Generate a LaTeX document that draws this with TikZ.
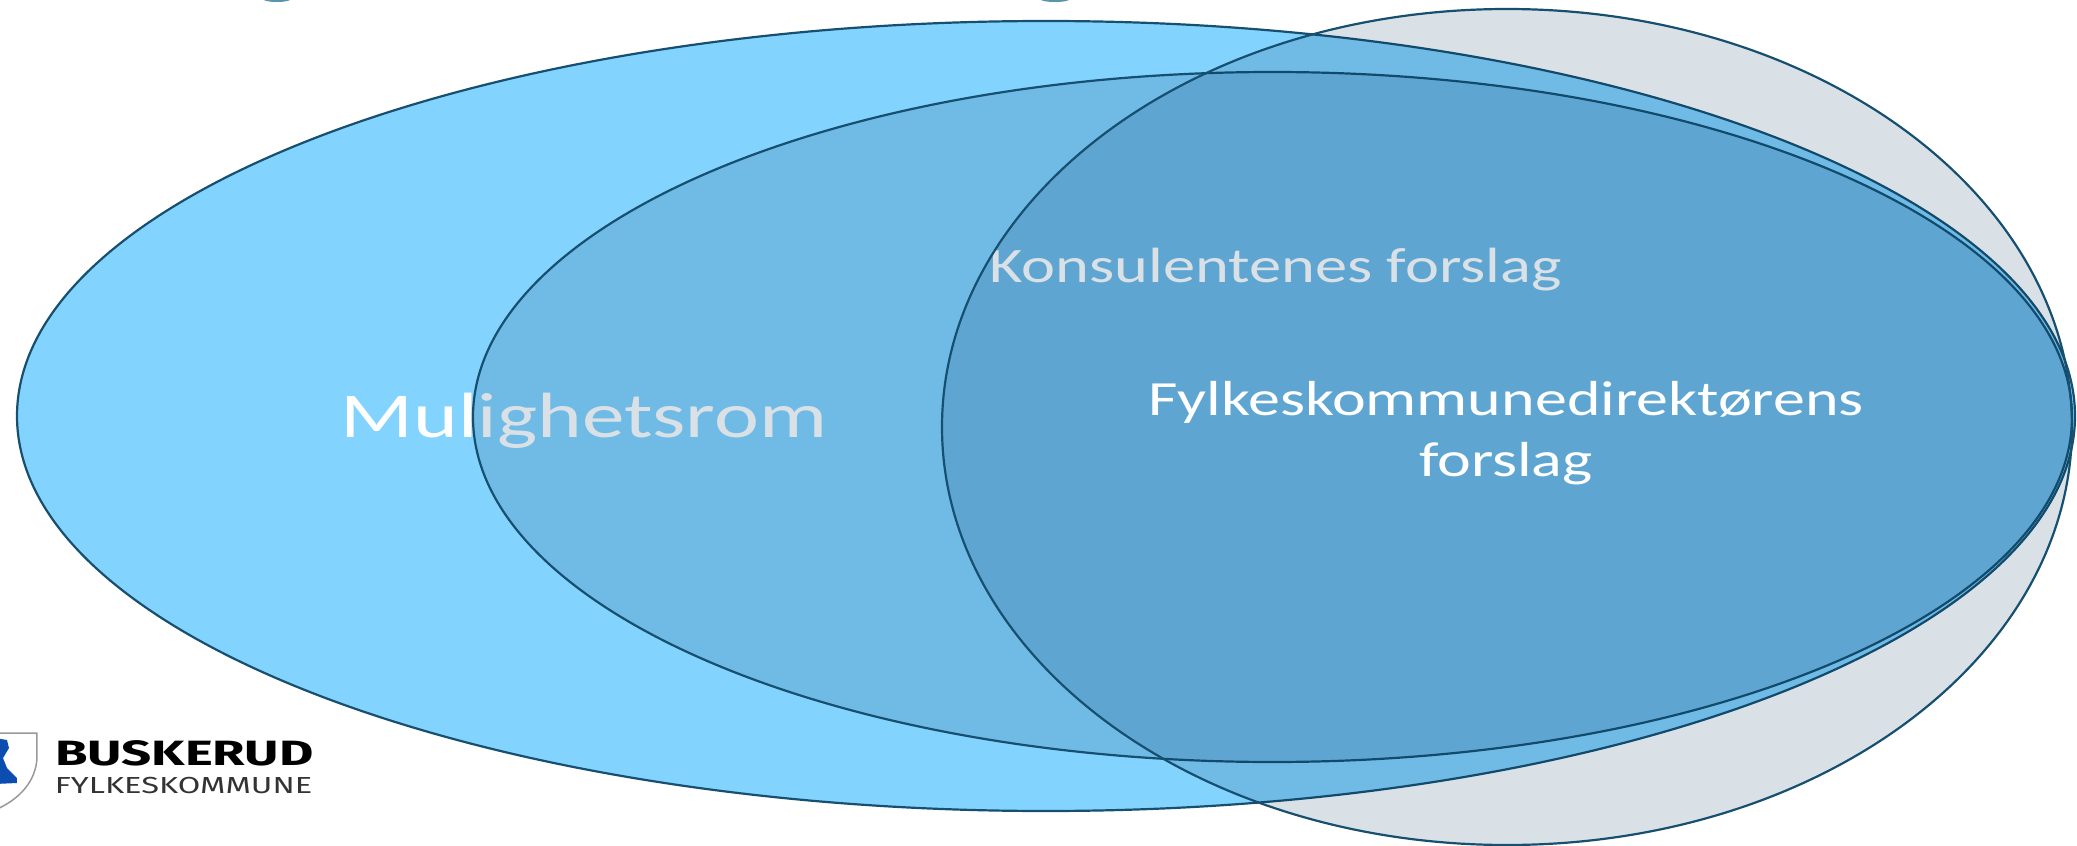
\documentclass[tikz,border=0pt]{standalone}
\usepackage{fontspec}
\setmainfont{Carlito}
\newfontfamily\logofont{Fira Sans}
\definecolor{bigblue}{HTML}{83D3FF}
\definecolor{deepblue}{HTML}{00345A}
\definecolor{edgeblue}{HTML}{164F70}
\definecolor{shieldblue}{HTML}{0C4DB0}
\definecolor{titleteal}{HTML}{5A93AE}
\tikzset{
    room/.style={draw=edgeblue, line width=0.022cm},
    veil/.style={room, fill=deepblue, fill opacity=0.15},
    label/.style={text=white, inner sep=0pt, align=center, xscale=1.3}
}
\begin{document}
\begin{tikzpicture}
    \useasboundingbox (0,0) rectangle (20.770000,8.450000);
    \clip (0,0) rectangle (20.770000,8.450000);

    % Marking cut off title ends
    \fill [titleteal] (2.770000,8.460000) ellipse (0.140000 and 0.030000);%
    \fill [titleteal] (10.550000,8.460000) ellipse (0.150000 and 0.030000);%

    % Marking outer ellipse
    \draw [room, fill=bigblue] (10.460000,4.290000) ellipse (10.290000 and 3.950000);%
    \node [label, xscale=1.024, anchor=base, font=\fontsize{18.2}{22}\selectfont] (rom) at (5.840000,4.070000) {Mulighetsrom};%

    % Marking middle ellipse
    \draw [veil] (12.725000,4.280000) ellipse (7.995000 and 3.450000);%
    \node [label, anchor=base, font=\fontsize{14.1}{17}\selectfont] (konsulent) at (12.755000,5.620000) {Konsulentenes forslag};%

    % Marking right ellipse
    \draw [veil] (15.070000,4.180000) ellipse (5.650000 and 4.180000);%
    \node [label, font=\fontsize{14}{17.4}\selectfont] (direktor) at (15.060000,4.120000) {Fylkeskommunedirektørens\\forslag};%

    % Marking logo
    \draw [line width=0.015cm, draw=gray!80, fill=white] (-0.100000,1.120000) -- (0.370000,1.120000) -- (0.370000,0.870000) .. controls (0.360000,0.660000) and (0.220000,0.450000) .. (-0.100000,0.330000);%
    \fill [shieldblue] (-0.050000,1.070000) -- (0.070000,1.050000) -- (0.090000,0.970000) -- (0.030000,0.870000) -- (0.070000,0.770000) -- (0.170000,0.670000) -- (0.170000,0.620000) -- (-0.050000,0.610000) -- cycle;%
    \node [anchor=base west, inner sep=0pt, xscale=1.5] (buskerud) at (0.540000,0.800000) {\logofont\fontsize{10}{12}\selectfont\bfseries BUSKERUD};%
    \node [anchor=base west, inner sep=0pt, xscale=1.406, text=black!80] (fylke) at (0.540000,0.520000) {\logofont\fontsize{6.6}{8}\selectfont FYLKESKOMMUNE};%
\end{tikzpicture}
\end{document}
